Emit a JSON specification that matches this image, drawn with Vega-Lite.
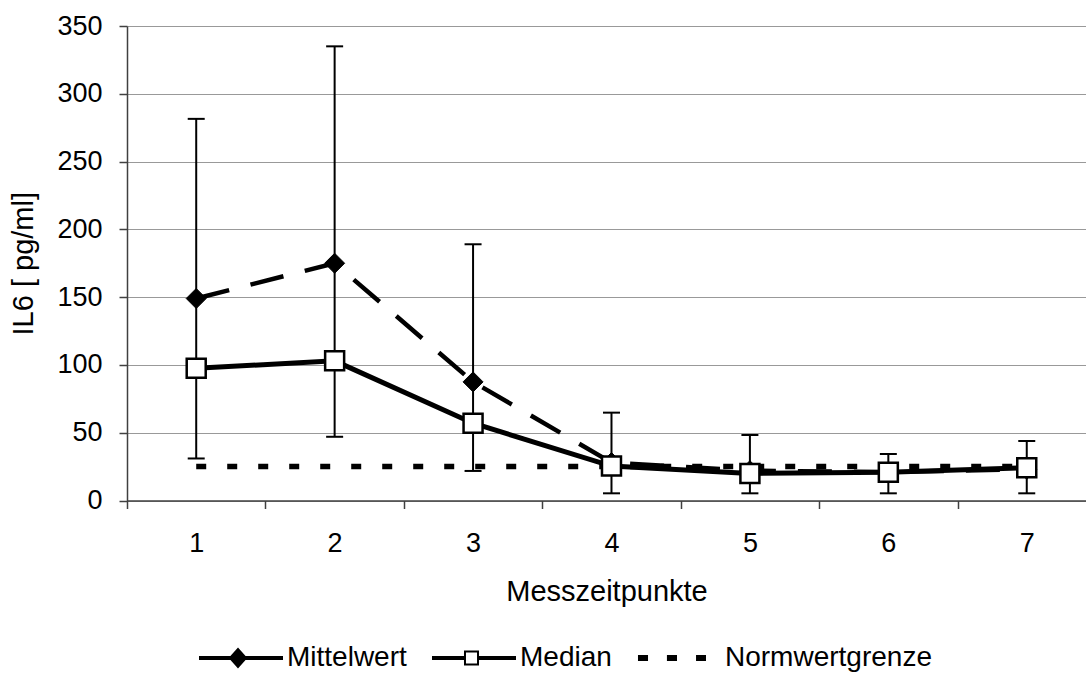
{
  "$schema": "https://vega.github.io/schema/vega-lite/v6.json",
  "width": 959,
  "height": 474.5,
  "autosize": {"type": "none"},
  "padding": {"left": 127, "top": 26, "right": 0, "bottom": 174.5},
  "background": "white",
  "config": {
    "font": "Liberation Sans",
    "view": {"stroke": null},
    "axis": {
      "labelFont": "Liberation Sans",
      "titleFont": "Liberation Sans",
      "labelColor": "black",
      "titleColor": "black",
      "titleFontWeight": "normal",
      "domainColor": "#404040",
      "tickColor": "#404040",
      "domainWidth": 1.5,
      "tickWidth": 1.5
    },
    "legend": {"labelFont": "Liberation Sans"}
  },
  "datasets": {
    "series": [
      {"t": 1, "series": "Mittelwert", "value": 149},
      {"t": 2, "series": "Mittelwert", "value": 175},
      {"t": 3, "series": "Mittelwert", "value": 87.5},
      {"t": 4, "series": "Mittelwert", "value": 28},
      {"t": 5, "series": "Mittelwert", "value": 22},
      {"t": 6, "series": "Mittelwert", "value": 21},
      {"t": 7, "series": "Mittelwert", "value": 23},
      {"t": 1, "series": "Median", "value": 97.5},
      {"t": 2, "series": "Median", "value": 103},
      {"t": 3, "series": "Median", "value": 57},
      {"t": 4, "series": "Median", "value": 25.4},
      {"t": 5, "series": "Median", "value": 20},
      {"t": 6, "series": "Median", "value": 20.8},
      {"t": 7, "series": "Median", "value": 24.2},
      {"t": 1, "series": "Normwertgrenze", "value": 25},
      {"t": 2, "series": "Normwertgrenze", "value": 25},
      {"t": 3, "series": "Normwertgrenze", "value": 25},
      {"t": 4, "series": "Normwertgrenze", "value": 25},
      {"t": 5, "series": "Normwertgrenze", "value": 25},
      {"t": 6, "series": "Normwertgrenze", "value": 25},
      {"t": 7, "series": "Normwertgrenze", "value": 25}
    ],
    "err": [
      {"t": 1, "lo": 31, "hi": 281.5},
      {"t": 2, "lo": 47, "hi": 335},
      {"t": 3, "lo": 21.8, "hi": 189},
      {"t": 4, "lo": 5.3, "hi": 64.8},
      {"t": 5, "lo": 5.3, "hi": 48.3},
      {"t": 6, "lo": 5.3, "hi": 34.3},
      {"t": 7, "lo": 5.3, "hi": 43.9}
    ],
    "legend": [
      {"series": "Mittelwert"},
      {"series": "Median"},
      {"series": "Normwertgrenze"}
    ]
  },
  "layer": [
    {
      "data": {"name": "err"},
      "mark": {"type": "rule", "color": "black", "strokeWidth": 2},
      "encoding": {
        "x": {
          "field": "t",
          "type": "quantitative",
          "scale": {"domain": [0.5, 7.428], "nice": false, "zero": false},
          "axis": {
            "values": [0.5, 1, 1.5, 2, 2.5, 3, 3.5, 4, 4.5, 5, 5.5, 6, 6.5, 7],
            "tickOpacity": {"condition": {"test": "datum.value % 1 === 0", "value": 0}, "value": 1},
            "labelExpr": "datum.value % 1 === 0 ? format(datum.value, 'd') : ''",
            "tickSize": 8,
            "labelPadding": 22,
            "labelFontSize": 27,
            "labelFlush": false,
            "labelOverlap": false,
            "grid": false,
            "title": "Messzeitpunkte",
            "titleFontSize": 29,
            "titlePadding": 21
          }
        },
        "y": {
          "field": "lo",
          "type": "quantitative",
          "scale": {"domain": [0, 350], "nice": false},
          "axis": {
            "values": [0, 50, 100, 150, 200, 250, 300, 350],
            "grid": true,
            "gridColor": "#999999",
            "gridWidth": 1,
            "tickSize": 8,
            "labelPadding": 17,
            "labelFontSize": 27,
            "title": "IL6 [ pg/ml]",
            "titleFontSize": 29,
            "titlePadding": 18
          }
        },
        "y2": {"field": "hi"}
      }
    },
    {
      "data": {"name": "err"},
      "mark": {"type": "tick", "orient": "horizontal", "color": "black", "size": 17, "thickness": 2, "opacity": 1},
      "encoding": {
        "x": {"field": "t", "type": "quantitative"},
        "y": {"field": "lo", "type": "quantitative"}
      }
    },
    {
      "data": {"name": "err"},
      "mark": {"type": "tick", "orient": "horizontal", "color": "black", "size": 17, "thickness": 2, "opacity": 1},
      "encoding": {
        "x": {"field": "t", "type": "quantitative"},
        "y": {"field": "hi", "type": "quantitative"}
      }
    },
    {
      "data": {"name": "series"},
      "transform": [{"filter": "datum.series === 'Normwertgrenze'"}],
      "mark": {"type": "line", "color": "black", "strokeWidth": 5.5, "strokeDash": [10, 21], "strokeCap": "butt"},
      "encoding": {
        "x": {"field": "t", "type": "quantitative"},
        "y": {"field": "value", "type": "quantitative"}
      }
    },
    {
      "data": {"name": "series"},
      "transform": [{"filter": "datum.series === 'Mittelwert'"}],
      "mark": {"type": "line", "color": "black", "strokeWidth": 4.5, "strokeDash": [34, 22], "strokeCap": "butt"},
      "encoding": {
        "x": {"field": "t", "type": "quantitative"},
        "y": {"field": "value", "type": "quantitative"}
      }
    },
    {
      "data": {"name": "series"},
      "transform": [{"filter": "datum.series === 'Median'"}],
      "mark": {"type": "line", "color": "black", "strokeWidth": 5},
      "encoding": {
        "x": {"field": "t", "type": "quantitative"},
        "y": {"field": "value", "type": "quantitative"}
      }
    },
    {
      "data": {"name": "series"},
      "transform": [{"filter": "datum.series === 'Mittelwert'"}],
      "mark": {"type": "point", "shape": "diamond", "size": 400, "filled": true, "fill": "black", "stroke": "black", "strokeWidth": 1, "opacity": 1},
      "encoding": {
        "x": {"field": "t", "type": "quantitative"},
        "y": {"field": "value", "type": "quantitative"}
      }
    },
    {
      "data": {"name": "series"},
      "transform": [{"filter": "datum.series === 'Median'"}],
      "mark": {"type": "point", "shape": "square", "size": 361, "filled": true, "fill": "white", "stroke": "black", "strokeWidth": 2.5, "opacity": 1},
      "encoding": {
        "x": {"field": "t", "type": "quantitative"},
        "y": {"field": "value", "type": "quantitative"}
      }
    },
    {
      "data": {"name": "legend"},
      "transform": [{"filter": "false"}],
      "mark": {"type": "point", "filled": true, "strokeWidth": 2, "opacity": 1},
      "encoding": {
        "shape": {
          "field": "series",
          "type": "nominal",
          "scale": {
            "domain": ["Mittelwert", "Median", "Normwertgrenze"],
            "range": [
              "M-1,-0.024H1V0.024H-1Z M-0.268,0L-0.073,-0.22L0.122,0L-0.073,0.22Z",
              "M-1,-0.024H-0.22V0.024H-1Z M0.098,-0.024H1V0.024H0.098Z M-0.22,-0.159H0.098V0.159H-0.22Z",
              "M-0.976,-0.049H-0.78V0.049H-0.976Z M-0.27,-0.049H-0.073V0.049H-0.27Z M0.44,-0.049H0.634V0.049H0.44Z"
            ]
          },
          "legend": {
            "title": null,
            "orient": "none",
            "direction": "horizontal",
            "legendX": 72,
            "legendY": 590,
            "padding": 0,
            "symbolSize": 6724,
            "symbolStrokeWidth": 2,
            "symbolStrokeColor": "black",
            "labelFontSize": 28,
            "labelColor": "black",
            "labelOffset": 4,
            "columnPadding": 22,
            "labelLimit": 400
          }
        },
        "fill": {
          "field": "series",
          "type": "nominal",
          "scale": {
            "domain": ["Mittelwert", "Median", "Normwertgrenze"],
            "range": ["black", "white", "black"]
          },
          "legend": {
            "title": null,
            "orient": "none",
            "direction": "horizontal",
            "legendX": 72,
            "legendY": 590,
            "padding": 0,
            "symbolSize": 6724,
            "symbolStrokeWidth": 2,
            "symbolStrokeColor": "black",
            "labelFontSize": 28,
            "labelColor": "black",
            "labelOffset": 4,
            "columnPadding": 22,
            "labelLimit": 400
          }
        },
        "stroke": {
          "field": "series",
          "type": "nominal",
          "scale": {
            "domain": ["Mittelwert", "Median", "Normwertgrenze"],
            "range": ["black", "black", "black"]
          },
          "legend": {
            "title": null,
            "orient": "none",
            "direction": "horizontal",
            "legendX": 72,
            "legendY": 590,
            "padding": 0,
            "symbolSize": 6724,
            "symbolStrokeWidth": 2,
            "symbolStrokeColor": "black",
            "labelFontSize": 28,
            "labelColor": "black",
            "labelOffset": 4,
            "columnPadding": 22,
            "labelLimit": 400
          }
        }
      }
    }
  ]
}
